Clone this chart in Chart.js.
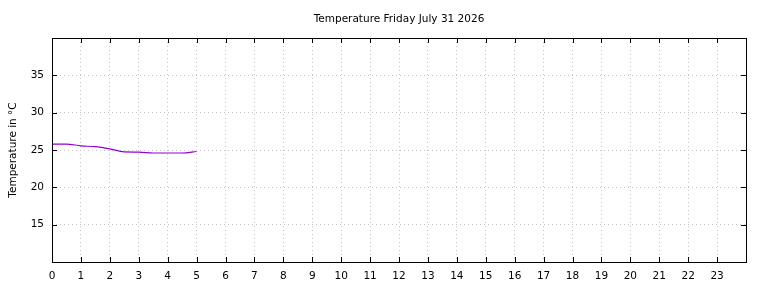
<!DOCTYPE html>
<html>
<head>
<meta charset="utf-8">
<script src="https://cdn.jsdelivr.net/npm/chart.js@4/dist/chart.umd.min.js"></script>
<style>
  html, body { margin: 0; padding: 0; background: #fff; }
  #wrap { width: 768px; height: 288px; }
</style>
</head>
<body>
<div id="wrap"><canvas id="Graph" width="768" height="288"></canvas></div>
<script>
// hours of the day and temperature readings
const hours = [0, 0.5, 1, 1.5, 2, 2.5, 3, 3.5, 4, 4.5, 5];
const temps = [25.8, 25.8, 25.55, 25.45, 25.15, 24.75, 24.72, 24.6, 24.6, 24.6, 24.8];
const chartTitle = 'Temperature Friday July 31 2026';
const yTitle = 'Temperature in °C';

const ctx = document.getElementById('Graph').getContext('2d');

// gnuplot style frame with inward ticks on all four sides
const framePlugin = {
  id: 'frame',
  afterDraw(chart) {
    const { ctx, chartArea: a, scales } = chart;
    ctx.save();
    ctx.strokeStyle = '#000';
    ctx.lineWidth = 1;
    ctx.beginPath();
    for (let h = 0; h <= 24; h++) {
      const x = Math.round(scales.x.getPixelForValue(h)) + 0.5;
      ctx.moveTo(x, a.bottom); ctx.lineTo(x, a.bottom - 5);
      ctx.moveTo(x, a.top); ctx.lineTo(x, a.top + 5);
    }
    for (let t = 10; t <= 40; t += 5) {
      const y = Math.round(scales.y.getPixelForValue(t)) + 0.5;
      ctx.moveTo(a.left, y); ctx.lineTo(a.left + 5, y);
      ctx.moveTo(a.right, y); ctx.lineTo(a.right - 5, y);
    }
    ctx.stroke();
    ctx.strokeRect(Math.round(a.left) + 0.5, Math.round(a.top) + 0.5,
      Math.round(a.right - a.left), Math.round(a.bottom - a.top));
    ctx.restore();
  }
};

Chart.defaults.font.family = '"DejaVu Sans", sans-serif';
Chart.defaults.font.size = 10.5;
Chart.defaults.color = '#000';

new Chart(ctx, {
  type: 'line',
  data: {
    datasets: [{
      data: hours.map((h, i) => ({ x: h, y: temps[i] })),
      borderColor: '#9400d3',
      borderWidth: 1.2,
      pointRadius: 0,
      cubicInterpolationMode: 'monotone',
      fill: false,
    }],
  },
  options: {
    responsive: false,
    animation: false,
    layout: { padding: { left: 0, right: 22, top: 0, bottom: 0 } },
    plugins: {
      legend: { display: false },
      tooltip: { enabled: false },
      title: {
        display: true,
        fullSize: false,
        text: chartTitle,
        color: '#000',
        font: { size: 10.5, weight: 'normal' },
        padding: { top: 13, bottom: 12.4 },
      },
    },
    scales: {
      x: {
        type: 'linear',
        min: 0,
        max: 24,
        border: { display: false, dash: [1, 3] },
        grid: { color: '#c4c4c4', drawTicks: false },
        ticks: {
          stepSize: 1,
          padding: 8,
          maxRotation: 0,
          autoSkip: false,
          callback: v => (v < 24 ? v : ''),
        },
        afterFit: s => { s.height = 26; },
      },
      y: {
        min: 10,
        max: 40,
        border: { display: false, dash: [1, 3] },
        grid: { color: '#c4c4c4', drawTicks: false },
        ticks: {
          stepSize: 5,
          padding: 8,
          callback: v => (v > 10 && v < 40 ? v : ''),
        },
        title: {
          display: true,
          text: yTitle,
          color: '#000',
          font: { size: 10.5 },
          padding: { top: 6.5, bottom: 0 },
        },
        afterFit: s => { s.width = 52; },
      },
    },
  },
  plugins: [framePlugin],
});
</script>
</body>
</html>
